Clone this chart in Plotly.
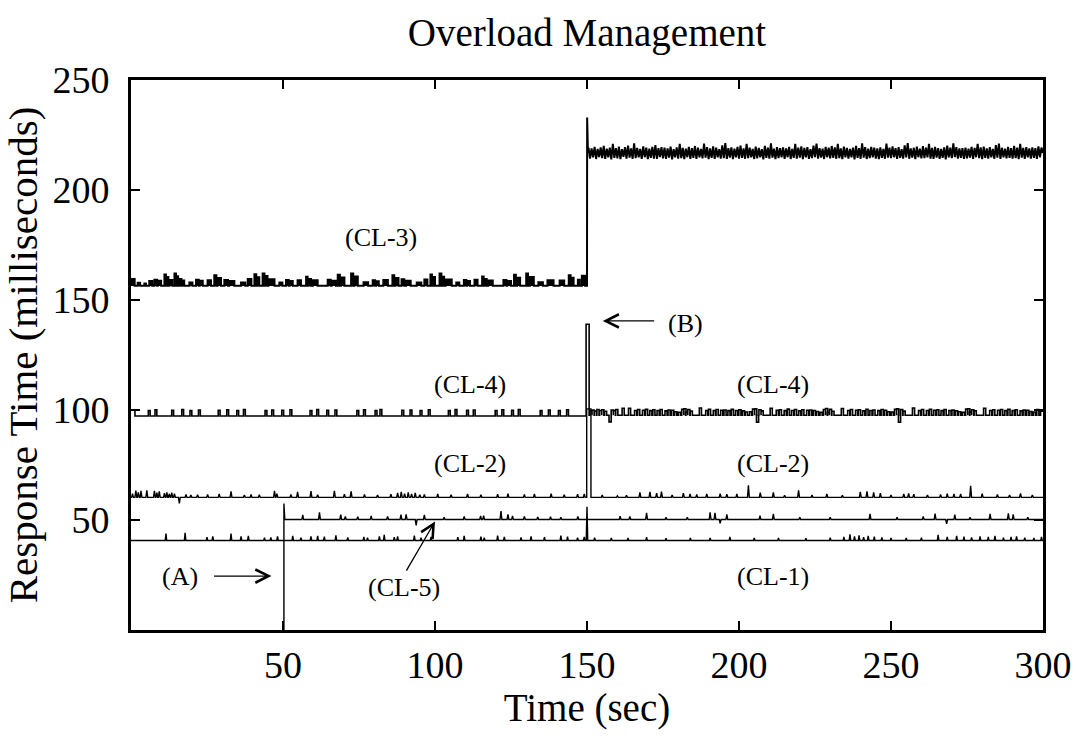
import plotly.graph_objects as go

# ---------------- data ----------------
# CL-3 : 0..150 s baseline with bursts (blocks: start, end, value)
cl3_base = 156.5
cl3_blk_start = [0.0, 2.2, 4.4, 6.0, 7.7, 8.8, 11.0, 11.8, 12.6, 14.3, 15.0, 15.9, 16.8,
                 19.2, 21.4, 22.6, 25.2, 27.4, 28.5, 30.7, 32.3, 36.2, 38.4, 40.6, 41.5,
                 43.3, 44.2, 45.2, 48.8, 51.0, 52.2, 54.8, 57.6, 58.4, 59.8, 64.7, 66.0,
                 68.0, 69.1, 72.4, 73.5, 76.5, 79.5, 80.6, 83.0, 86.0, 87.0, 89.0, 90.5,
                 94.0, 96.5, 98.5, 99.3, 101.5, 102.4, 103.5, 107.0, 109.5, 110.6, 113.0,
                 115.5, 116.3, 117.5, 122.5, 123.8, 126.0, 127.0, 130.0, 131.2, 134.0,
                 137.0, 141.0, 144.0, 145.0, 147.0, 148.3]
cl3_blk_end = [1.2, 3.0, 4.9, 7.0, 8.6, 9.9, 11.5, 12.3, 13.6, 14.8, 15.5, 16.6, 17.5,
               20.2, 22.3, 23.6, 26.3, 28.1, 29.6, 31.9, 34.0, 37.6, 39.6, 41.2, 42.2,
               43.9, 44.9, 47.2, 49.8, 51.9, 53.2, 55.9, 58.1, 59.2, 61.4, 65.7, 67.4,
               68.7, 70.2, 73.1, 74.6, 78.0, 80.3, 81.5, 84.5, 86.6, 88.0, 89.9, 92.0,
               95.5, 97.5, 99.0, 100.0, 102.1, 103.0, 105.5, 108.0, 110.3, 111.5, 114.0,
               116.0, 117.0, 119.0, 123.5, 125.0, 126.6, 128.0, 130.6, 132.5, 135.5,
               139.0, 142.5, 144.6, 145.6, 147.6, 149.4]
cl3_blk_val = [159.5, 157.8, 157.5, 158.6, 159.2, 158.8, 161.6, 160.4, 159.1, 162.0, 160.8,
               159.6, 158.9, 158.0, 159.2, 158.7, 159.0, 161.2, 160.0, 159.1, 158.6, 158.0,
               159.5, 161.7, 160.3, 162.1, 160.9, 159.4, 158.0, 159.1, 158.6, 159.0, 160.6,
               159.6, 159.0, 159.2, 158.7, 161.5, 160.2, 162.0, 160.7, 158.1, 159.0, 158.5,
               159.1, 161.3, 160.0, 159.4, 158.8, 158.0, 159.3, 161.6, 160.4, 162.0, 160.6,
               159.3, 158.0, 159.1, 158.6, 159.2, 160.7, 159.5, 158.9, 159.1, 158.6, 161.5,
               160.1, 162.0, 160.5, 158.1, 159.0, 158.9, 161.2, 160.1, 159.2, 161.0]
# CL-3 : jump at 150 s
cl3_jump_t = [150.0, 150.0, 150.05, 150.3]
cl3_jump_v = [156.5, 156.5, 233.0, 217.5]
# CL-3 : 150.5..300 s, one sample every half second
cl3_high = [
    219.2, 214.3, 218.9, 214.8, 219.6, 214.1, 218.7, 215.0, 219.4, 214.5,
    220.1, 214.2, 218.8, 214.9, 219.3, 213.9, 221.0, 214.6, 219.0, 214.4,
    219.7, 214.0, 218.6, 215.1, 219.5, 214.3, 220.2, 214.7, 218.9, 214.1,
    221.2, 214.5, 219.1, 214.8, 218.7, 214.2, 219.8, 214.9, 219.3, 214.0,
    218.8, 214.6, 219.6, 214.3, 220.4, 214.1, 219.0, 215.0, 219.5, 214.4,
    219.2, 214.2, 218.9, 214.7, 219.7, 213.9, 218.6, 214.8, 219.4, 214.3,
    221.0, 214.5, 219.1, 214.0, 218.8, 214.9, 219.6, 214.2, 219.0, 214.6,
    220.0, 214.1, 219.3, 214.8, 218.7, 214.4, 221.1, 214.7, 219.5, 214.0,
    218.9, 214.6, 219.8, 214.2, 219.2, 214.9, 218.6, 214.3, 220.3, 214.5,
    221.3, 214.1, 219.0, 214.7, 219.4, 214.0, 218.8, 214.8, 219.6, 214.3,
    220.2, 214.6, 218.9, 214.2, 221.0, 214.5, 219.3, 214.9, 218.7, 214.1,
    219.7, 214.4, 219.1, 214.8, 218.6, 213.9, 220.1, 214.6, 219.2, 214.3,
    221.2, 214.7, 218.8, 214.0, 219.5, 214.5, 219.0, 214.8, 219.4, 214.2,
    218.9, 214.9, 219.6, 214.1, 218.7, 214.6, 221.0, 214.3, 219.3, 214.7,
    219.8, 214.0, 219.1, 214.8, 219.5, 214.2, 218.6, 214.5, 220.2, 214.9,
    221.1, 214.3, 219.0, 214.7, 218.8, 214.1, 219.6, 214.9, 219.2, 214.4,
    220.0, 214.6, 219.4, 214.2, 221.0, 214.5, 218.9, 214.0, 219.7, 214.8,
    219.1, 214.3, 218.7, 214.9, 219.3, 213.9, 220.1, 214.6, 219.0, 214.2,
    221.2, 214.7, 219.5, 214.1, 218.8, 214.5, 219.6, 214.8, 219.2, 214.3,
    218.9, 214.0, 219.4, 214.6, 218.7, 214.2, 221.1, 214.7, 219.3, 214.5,
    219.8, 214.9, 219.0, 214.1, 219.5, 214.6, 218.6, 214.3, 220.3, 214.8,
    221.3, 214.2, 218.9, 214.7, 219.2, 214.0, 219.7, 214.9, 218.8, 214.4,
    220.0, 214.5, 219.3, 214.8, 221.0, 214.3, 219.1, 214.1, 219.6, 214.7,
    219.0, 214.2, 218.7, 214.6, 219.4, 213.9, 220.2, 214.8, 219.2, 214.5,
    221.2, 214.9, 219.5, 214.3, 218.9, 214.6, 219.0, 214.1, 219.3, 214.4,
    218.8, 214.7, 219.6, 214.2, 219.1, 214.9, 221.0, 214.5, 219.4, 214.0,
    219.7, 214.6, 218.9, 214.3, 219.5, 214.8, 218.7, 214.2, 220.4, 214.7,
    221.1, 214.1, 219.2, 214.9, 218.8, 214.4, 219.6, 214.6, 219.0, 214.3,
    220.1, 214.5, 219.3, 214.0, 221.0, 214.7, 219.1, 214.2, 219.5, 214.8,
    218.9, 214.3, 219.4, 214.6, 219.0, 214.2, 219.8, 214.9, 219.3, 216.8]

# CL-4
cl4_base_a = 97.3
cl4_start_t = [0.0, 1.3, 1.3]
cl4_start_v = [100.0, 100.0, 97.3]
cl4_a_t = [6.0, 8.2, 13.7, 17.0, 19.7, 22.5, 29.0, 31.8, 35.1, 37.3, 44.4, 46.6, 49.9,
           52.6, 59.2, 61.4, 64.7, 67.4, 74.6, 76.8, 80.6, 82.2, 89.4, 92.1, 95.4, 98.1,
           104.7, 106.9, 110.7, 112.9, 120.1, 122.3, 125.5, 127.7, 134.9, 137.6, 140.9,
           143.6]
cl4_a_v = [99.8, 100.1, 99.9, 100.2, 99.7, 100.0, 99.9, 100.1, 99.8, 100.2, 99.7, 100.0,
           99.9, 100.1, 99.8, 100.2, 99.9, 100.0, 99.7, 100.1, 99.8, 100.2, 99.9, 100.0,
           99.8, 100.1, 99.7, 100.2, 99.9, 100.0, 99.8, 100.1, 99.9, 100.2, 99.7, 100.0,
           99.8, 100.1]
cl4_jump_t = [149.7, 149.7, 150.7, 150.7]
cl4_jump_v = [97.3, 139.0, 139.0, 97.6]
cl4_base_b = 97.6
cl4_b_t = [151.3, 152.0, 152.8, 153.6, 154.5, 155.2, 156.1, 157.6, 158.3, 159.0, 159.8, 161.9,
           164.0, 166.0, 167.0, 168.6, 169.6, 171.0, 172.0, 173.4, 174.4, 176.0, 177.0,
           178.2, 179.2, 180.4, 181.5, 182.2, 182.8, 183.5, 184.3,
           187.3, 189.4, 190.3, 191.9, 192.8, 194.3, 195.4, 196.7, 197.8, 199.2, 200.3,
           201.5, 202.4, 203.8, 204.8, 205.5, 206.1, 206.9, 207.6,
           210.6, 212.6, 213.6, 215.2, 216.2, 217.6, 218.6, 220.0, 221.0, 222.6, 223.6,
           224.8, 225.8, 227.0, 228.1, 228.8, 229.4, 230.1, 230.9,
           234.0, 236.1, 237.0, 238.7, 239.6, 241.0, 242.1, 243.4, 244.4, 246.0, 247.1,
           248.2, 249.2, 250.4, 251.5, 252.2, 252.8, 253.5, 254.3,
           257.4, 259.4, 260.4, 262.0, 263.0, 264.4, 265.4, 266.8, 267.8, 269.4, 270.4,
           271.6, 272.6, 273.8, 274.9, 275.6, 276.2, 276.9, 277.7,
           280.8, 282.8, 283.8, 285.4, 286.4, 287.8, 288.8, 290.2, 291.2, 292.8, 293.8,
           295.0, 296.0, 297.2, 298.3]
cl4_b_v = [99.6, 100.0, 99.5, 100.2, 99.8, 100.1, 99.4, 94.6, 100.0, 99.7, 100.2, 100.8,
           100.8, 99.8, 100.2, 99.9, 100.3, 99.7, 100.1, 99.8, 100.2, 99.6, 100.0,
           99.9, 99.2, 99.0, 100.3, 100.6, 99.0, 100.2, 99.5,
           100.9, 99.7, 100.3, 99.8, 100.2, 99.9, 100.0, 99.7, 100.3, 99.8, 100.1,
           99.6, 99.1, 99.2, 100.4, 100.5, 94.5, 100.1, 99.6,
           100.8, 99.9, 100.1, 99.7, 100.4, 99.8, 100.2, 99.6, 100.1, 99.9, 100.0,
           99.8, 99.3, 99.0, 100.2, 100.7, 99.0, 100.3, 99.4,
           100.7, 99.8, 100.2, 99.9, 100.1, 99.6, 100.3, 99.8, 100.0, 99.7, 100.2,
           99.9, 99.2, 99.1, 100.3, 100.5, 94.4, 100.2, 99.5,
           100.9, 99.7, 100.2, 99.8, 100.3, 99.9, 100.1, 99.7, 100.2, 99.8, 100.0,
           99.6, 99.2, 99.0, 100.4, 100.6, 99.1, 100.1, 99.6,
           100.8, 99.8, 100.1, 99.9, 100.2, 99.7, 100.3, 99.8, 100.1, 99.6, 100.0,
           99.9, 99.3, 99.1, 100.2]
cl4_end_t = [299.2, 299.2, 300.0]
cl4_end_v = [97.6, 99.5, 99.5]

# CL-2
cl2_base = 60.3
cl2_a_t = [0.5, 1.6, 2.4, 3.3, 5.2, 7.7, 8.5, 9.3, 11.0, 11.8, 12.6, 13.4, 14.3, 15.9, 18.1,
           19.7, 21.9, 25.2, 29.0, 32.9, 37.3, 39.5, 42.2, 47.2, 48.0, 52.6, 54.8, 59.2,
           61.4, 66.9, 70.2, 72.4, 76.8, 81.1, 85.5, 87.7, 88.9, 90.0, 91.2, 92.3, 93.5,
           95.0, 96.5, 100.9, 105.3, 110.7, 115.1, 120.6, 124.0, 129.4, 132.7, 138.2,
           142.5, 146.9, 149.1]
cl2_a_v = [62.0, 63.4, 62.6, 63.2, 63.5, 63.3, 62.4, 63.0, 62.2, 62.6, 61.9, 62.4, 62.0,
           57.6, 61.6, 61.4, 61.5, 61.6, 61.8, 63.0, 61.4, 61.6, 61.5, 63.2, 62.0, 61.6,
           62.8, 63.1, 61.5, 63.2, 61.7, 63.0, 61.6, 61.4, 61.7, 62.3, 62.8, 62.0, 62.6,
           61.8, 62.3, 61.5, 61.6, 61.8, 61.5, 61.9, 61.5, 61.7, 62.0, 61.6, 61.8, 62.0,
           61.5, 61.7, 61.9]
cl2_jump_t = [149.9, 149.9, 151.3, 151.3]
cl2_jump_v = [60.3, 100.5, 100.5, 60.3]
cl2_b_t = [155.0, 160.0, 163.0, 167.4, 170.7, 172.9, 174.5, 178.0, 181.7, 183.9, 186.1,
           189.4, 193.8, 196.0, 199.3, 203.1, 207.0, 211.3, 215.0, 219.6, 224.0, 228.9,
           234.0, 239.9, 242.1, 244.3, 246.5, 250.0, 254.2, 255.8, 257.5, 262.0, 266.3,
           268.5, 270.7, 272.9, 276.2, 280.0, 285.0, 289.0, 292.6, 296.5]
cl2_b_v = [61.3, 61.0, 61.2, 62.6, 62.8, 62.2, 62.9, 61.4, 62.2, 61.8, 61.6, 61.9, 62.0,
           61.7, 61.8, 65.8, 62.4, 62.6, 61.2, 63.5, 61.3, 61.8, 61.2, 62.8, 63.0, 62.5,
           62.2, 61.4, 61.8, 62.1, 61.7, 61.3, 61.6, 62.0, 61.8, 61.9, 65.5, 62.0, 61.6,
           61.3, 62.1, 61.4]

# CL-5 (starts at 50 s)
cl5_base = 50.2
cl5_start_t = [50.3, 50.3, 50.6]
cl5_start_v = [0.0, 57.5, 50.2]
cl5_t = [56.5, 62.0, 69.0, 70.5, 74.6, 79.0, 84.4, 88.8, 90.5, 93.8, 96.5, 103.0, 109.6,
         115.0, 116.0, 121.7, 124.0, 125.5, 129.4, 133.8, 138.0, 141.4, 147.0, 160.9,
         164.1, 169.6, 176.0, 183.0, 190.5, 192.1, 193.8, 196.0, 206.9, 211.3, 220.0,
         230.0, 243.1, 252.0, 260.6, 264.5, 268.3, 271.0, 276.0, 282.6, 288.6, 290.2,
         295.0]
cl5_v = [52.3, 53.5, 52.4, 51.6, 51.5, 51.8, 51.6, 52.4, 52.6, 47.6, 52.3, 51.3, 51.6,
         51.8, 52.0, 54.0, 52.6, 51.8, 51.6, 51.4, 51.5, 51.3, 51.6, 51.7, 51.6, 53.2,
         51.3, 51.2, 53.5, 53.2, 48.5, 52.6, 52.0, 52.8, 51.2, 51.3, 52.8, 51.2, 51.6,
         52.9, 48.2, 52.4, 51.2, 52.8, 53.0, 52.6, 51.3]

# CL-1
cl1_base = 40.7
cl1_t = [11.5, 17.8, 25.0, 26.9, 32.9, 36.2, 38.6, 43.9, 46.0, 48.2, 53.2, 55.9, 59.2,
         61.4, 63.6, 67.4, 71.3, 76.6, 77.8, 81.7, 83.3, 86.6, 87.7, 93.2, 95.4, 98.7,
         107.5, 109.6, 115.1, 116.2, 120.6, 122.8, 128.3, 131.6, 136.0, 141.4, 143.6,
         146.9, 149.1, 150.0,
         152.5, 158.0, 163.5, 169.6, 176.0, 184.0, 190.5, 197.0, 205.0, 213.0, 222.0,
         230.0, 234.5, 236.5, 238.0, 239.5, 241.0, 242.5, 244.5, 247.0, 250.0, 255.0,
         260.0, 265.5, 268.5, 271.6, 274.0, 276.5, 279.3, 282.0, 284.2, 287.0, 289.5,
         291.3, 294.0, 297.0, 299.5]
cl1_v = [43.8, 44.2, 42.2, 42.6, 43.8, 42.5, 42.8, 42.0, 42.1, 42.5, 42.8, 42.0, 42.6,
         42.8, 42.4, 43.0, 42.1, 42.3, 42.0, 42.5, 43.2, 42.2, 42.6, 42.9, 42.0, 42.3,
         42.2, 42.8, 42.4, 42.0, 42.9, 42.3, 42.1, 42.6, 42.2, 42.9, 42.4, 42.0, 42.3,
         56.0,
         42.0, 41.8, 41.9, 42.2, 41.7, 41.8, 41.9, 42.3, 41.8, 41.9, 41.7, 42.0, 42.3,
         43.5, 42.6, 43.0, 42.2, 42.8, 42.4, 42.1, 41.8, 41.9, 42.0, 43.2, 42.3, 42.8,
         42.4, 42.1, 42.5, 42.3, 42.8, 42.0, 42.3, 42.6, 42.0, 41.9, 42.3]

x_ticks = [50, 100, 150, 200, 250, 300]
y_ticks = [50, 100, 150, 200, 250]

# ---------------- helpers to turn readings into line paths ----------------
def add_blocks(xs, ys, base, starts, ends, vals):
    for a, b, v in zip(starts, ends, vals):
        xs += [a, a, b, b]
        ys += [base, v, v, base]

def add_pulses(xs, ys, base, ts, vs, w):
    for t, v in zip(ts, vs):
        xs += [t - w / 2, t - w / 2, t + w / 2, t + w / 2]
        ys += [base, v, v, base]

def add_spikes(xs, ys, base, ts, vs, w):
    for t, v in zip(ts, vs):
        xs += [t - w / 2, t, t + w / 2]
        ys += [base, v, base]

series = {}

# CL-3
x, y = [], []
add_blocks(x, y, cl3_base, cl3_blk_start, cl3_blk_end, cl3_blk_val)
x += cl3_jump_t
y += cl3_jump_v
x += [150.5 + 0.5 * i for i in range(len(cl3_high))]
y += cl3_high
series["CL-3"] = (x, y, 2.0)

# CL-4
x, y = list(cl4_start_t), list(cl4_start_v)
add_pulses(x, y, cl4_base_a, cl4_a_t, cl4_a_v, 0.6)
x += cl4_jump_t
y += cl4_jump_v
add_pulses(x, y, cl4_base_b, cl4_b_t, cl4_b_v, 0.7)
x += cl4_end_t
y += cl4_end_v
series["CL-4"] = (x, y, 1.6)

# CL-2
x, y = [0.0], [cl2_base]
add_spikes(x, y, cl2_base, cl2_a_t, cl2_a_v, 0.6)
x += cl2_jump_t
y += cl2_jump_v
add_spikes(x, y, cl2_base, cl2_b_t, cl2_b_v, 0.6)
x += [300.0]
y += [cl2_base]
series["CL-2"] = (x, y, 1.4)

# CL-5
x, y = list(cl5_start_t), list(cl5_start_v)
add_spikes(x, y, cl5_base, cl5_t, cl5_v, 0.6)
x += [300.0]
y += [cl5_base]
series["CL-5"] = (x, y, 1.4)

# CL-1
x, y = [0.0], [cl1_base]
add_spikes(x, y, cl1_base, cl1_t, cl1_v, 0.5)
x += [300.0]
y += [cl1_base]
series["CL-1"] = (x, y, 1.4)

fig = go.Figure()

# dense bursts of CL-3 (filled, as the dense samples render solid)
fig.add_trace(go.Bar(
    x=[(a + b) / 2 for a, b in zip(cl3_blk_start, cl3_blk_end)],
    y=[v - cl3_base for v in cl3_blk_val],
    base=cl3_base,
    width=[b - a for a, b in zip(cl3_blk_start, cl3_blk_end)],
    marker=dict(color="black", line=dict(width=0)),
    showlegend=False, hoverinfo="skip"))

for name, (sx, sy, lw) in series.items():
    fig.add_trace(go.Scatter(x=sx, y=sy, mode="lines", name=name,
                             line=dict(color="black", width=lw, simplify=False),
                             showlegend=False, hoverinfo="skip"))

FONT = "Liberation Serif, Times New Roman, serif"

labels = [
    ("(CL-3)", 82.2, 178.2), ("(B)", 182.5, 139.5),
    ("(CL-4)", 111.5, 111.4), ("(CL-4)", 211.2, 111.4),
    ("(CL-2)", 111.5, 75.9), ("(CL-2)", 211.2, 75.9),
    ("(A)", 16.1, 24.5), ("(CL-5)", 89.8, 19.1), ("(CL-1)", 211.2, 24.5),
]
for txt, lx, ly in labels:
    fig.add_annotation(x=lx, y=ly, text=txt, showarrow=False,
                       font=dict(family=FONT, size=26, color="black"))

arrows = [((155.2, 140.5), (172.6, 140.5)),
          ((46.2, 24.5), (26.8, 24.5)),
          ((100.0, 49.3), (90.3, 26.3))]
for (hx, hy), (tx, ty) in arrows:
    fig.add_annotation(x=hx, y=hy, ax=tx, ay=ty, xref="x", yref="y",
                       axref="x", ayref="y", text="", showarrow=True,
                       arrowhead=5, arrowsize=2.0, arrowwidth=1.3,
                       arrowcolor="black")

axis_common = dict(showline=True, linecolor="black", linewidth=2.6, mirror="ticks",
                   ticks="inside", ticklen=9, tickwidth=2, tickcolor="black",
                   showgrid=False, zeroline=False, automargin=False,
                   tickfont=dict(family=FONT, size=38, color="black"))

fig.update_layout(
    width=1076, height=749,
    margin=dict(l=131, r=33, t=80, b=119),
    paper_bgcolor="white", plot_bgcolor="white",
    barmode="overlay", bargap=0,
    title=dict(text="Overload Management", x=0.5455, xanchor="center",
               y=1 - 32 / 749, yanchor="middle",
               font=dict(family=FONT, size=39, color="black")),
    xaxis=dict(range=[0, 300], tickvals=x_ticks, ticktext=[str(v) for v in x_ticks],
               ticklabelstandoff=0,
               title=dict(text="Time (sec)", standoff=0,
                          font=dict(family=FONT, size=39, color="black")),
               **axis_common),
    yaxis=dict(range=[0, 250], tickvals=y_ticks, ticktext=[str(v) for v in y_ticks],
               ticklabelstandoff=11,
               title=dict(text="Response Time (milliseconds)", standoff=16,
                          font=dict(family=FONT, size=41, color="black")),
               **axis_common),
)

fig.write_html("out.html")
